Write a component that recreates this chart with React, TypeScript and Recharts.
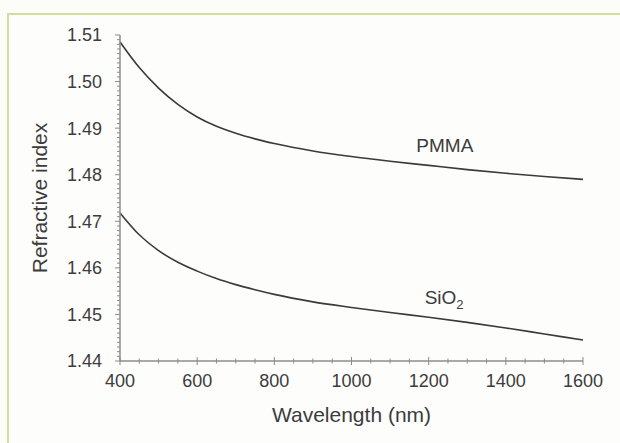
import React from 'react';
import { LineChart, Line, XAxis, YAxis, ReferenceDot } from 'recharts';

const wavelengths = [400, 450, 500, 550, 600, 650, 700, 750, 800, 900, 1000, 1100, 1200, 1300, 1400, 1500, 1600];
const pmmaIndex = [1.5085, 1.503, 1.4986, 1.4951, 1.4924, 1.4904, 1.4889, 1.4877, 1.4867, 1.4851, 1.4839, 1.4829, 1.482, 1.4811, 1.4803, 1.4796, 1.479];
const sio2Index = [1.4718, 1.4671, 1.4637, 1.4612, 1.4593, 1.4577, 1.4564, 1.4553, 1.4543, 1.4527, 1.4515, 1.4504, 1.4494, 1.4483, 1.4471, 1.4458, 1.4445];

const xLabelTicks = [400, 600, 800, 1000, 1200, 1400, 1600];
const xMinorTicks = [400, 450, 500, 550, 600, 650, 700, 750, 800, 850, 900, 950, 1000, 1050, 1100, 1150, 1200, 1250, 1300, 1350, 1400, 1450, 1500, 1550, 1600];
const yLabelTicks = [1.44, 1.45, 1.46, 1.47, 1.48, 1.49, 1.5, 1.51];
const yMinorTicks: number[] = [];
for (let i = 0; i <= 70; i++) yMinorTicks.push(Math.round((1.44 + i * 0.001) * 1000) / 1000);

const data = wavelengths.map((w, i) => ({ w, pmma: pmmaIndex[i], sio2: sio2Index[i] }));

const TEXT = '#3c3c3c';
const AXIS = '#8c8c8c';
const FONT = '"Liberation Sans", Arial, sans-serif';

const YTick = (props: any) => {
  const { x, y, payload } = props;
  const v = payload.value;
  const major = yLabelTicks.some((t) => Math.abs(t - v) < 1e-6);
  return (
    <g>
      <line x1={x - (major ? 5 : 3)} x2={x} y1={y} y2={y} stroke={AXIS} strokeWidth={1} />
      {major && (
        <text x={x - 18} y={y} dy="0.36em" textAnchor="end" fontSize={18} fill={TEXT} fontFamily={FONT}>
          {v.toFixed(2)}
        </text>
      )}
    </g>
  );
};

const XTick = (props: any) => {
  const { x, y, payload } = props;
  const v = payload.value;
  const major = xLabelTicks.includes(v);
  return (
    <g>
      <line x1={x} x2={x} y1={y - (major ? 4 : 2.5)} y2={y + (major ? 4 : 2.5)} stroke={AXIS} strokeWidth={1} />
      {major && (
        <text x={x} y={y + 26} textAnchor="middle" fontSize={18} fill={TEXT} fontFamily={FONT}>
          {v}
        </text>
      )}
    </g>
  );
};

const XTitle = (props: any) => {
  const vb = props.viewBox;
  return (
    <text x={vb.x + vb.width / 2} y={vb.y + 61} textAnchor="middle" fontSize={21} fill={TEXT} fontFamily={FONT}>
      Wavelength (nm)
    </text>
  );
};

const YTitle = (props: any) => {
  const vb = props.viewBox;
  const cx = vb.x + 47;
  const cy = vb.y + vb.height / 2;
  return (
    <text x={cx} y={cy} textAnchor="middle" fontSize={21} fill={TEXT} fontFamily={FONT} transform={`rotate(-90, ${cx}, ${cy})`}>
      Refractive index
    </text>
  );
};

const PmmaLabel = (props: any) => {
  const vb = props.viewBox;
  return (
    <text x={vb.x + vb.width / 2} y={vb.y + vb.height / 2} dy="0.36em" textAnchor="middle" fontSize={19} fill={TEXT} fontFamily={FONT}>
      PMMA
    </text>
  );
};

const SioLabel = (props: any) => {
  const vb = props.viewBox;
  return (
    <text x={vb.x + vb.width / 2} y={vb.y + vb.height / 2} dy="0.36em" textAnchor="middle" fontSize={19} fill={TEXT} fontFamily={FONT}>
      SiO
      <tspan fontSize={13} dy={5}>2</tspan>
    </text>
  );
};

export default function App() {
  return (
    <div style={{ position: 'absolute', left: 0, top: 0, width: 620, height: 443, background: '#fcfcf9', overflow: 'hidden' }}>
      <div style={{ position: 'absolute', left: 7, top: 13, width: 613, height: 430, borderTop: '2px solid #d5dd9c', borderLeft: '2px solid #d5dd9c', boxSizing: 'border-box', background: '#fdfdfb' }} />
      <div style={{ position: 'absolute', left: 0, top: 0 }}>
        <LineChart width={620} height={443} data={data} margin={{ top: 35, right: 37, left: 0, bottom: 0 }}>
          <XAxis
            dataKey="w"
            type="number"
            domain={[400, 1600]}
            ticks={xMinorTicks}
            interval={0}
            tick={<XTick />}
            tickLine={false}
            tickSize={0}
            tickMargin={0}
            height={82}
            axisLine={{ stroke: AXIS, strokeWidth: 1.5 }}
            label={XTitle}
          />
          <XAxis xAxisId="top" orientation="top" dataKey="w" type="number" domain={[400, 1600]} tick={false} tickLine={false} height={0} axisLine={{ stroke: AXIS, strokeWidth: 1.5 }} />
          <YAxis
            type="number"
            domain={[1.44, 1.51]}
            ticks={yMinorTicks}
            interval={0}
            tick={<YTick />}
            tickLine={false}
            tickSize={0}
            tickMargin={0}
            width={120}
            axisLine={{ stroke: AXIS, strokeWidth: 1.5 }}
            allowDataOverflow
            label={YTitle}
          />
          <YAxis yAxisId="right" orientation="right" type="number" domain={[1.44, 1.51]} tick={false} tickLine={false} width={0} axisLine={{ stroke: AXIS, strokeWidth: 1.5 }} />
          <Line type="monotone" dataKey="pmma" stroke="#3a3a3a" strokeWidth={1.6} dot={false} isAnimationActive={false} />
          <Line type="monotone" dataKey="sio2" stroke="#3a3a3a" strokeWidth={1.6} dot={false} isAnimationActive={false} />
          <ReferenceDot x={1242} y={1.4864} r={0} fill="none" stroke="none" label={PmmaLabel} />
          <ReferenceDot x={1240} y={1.4537} r={0} fill="none" stroke="none" label={SioLabel} />
        </LineChart>
      </div>
    </div>
  );
}
